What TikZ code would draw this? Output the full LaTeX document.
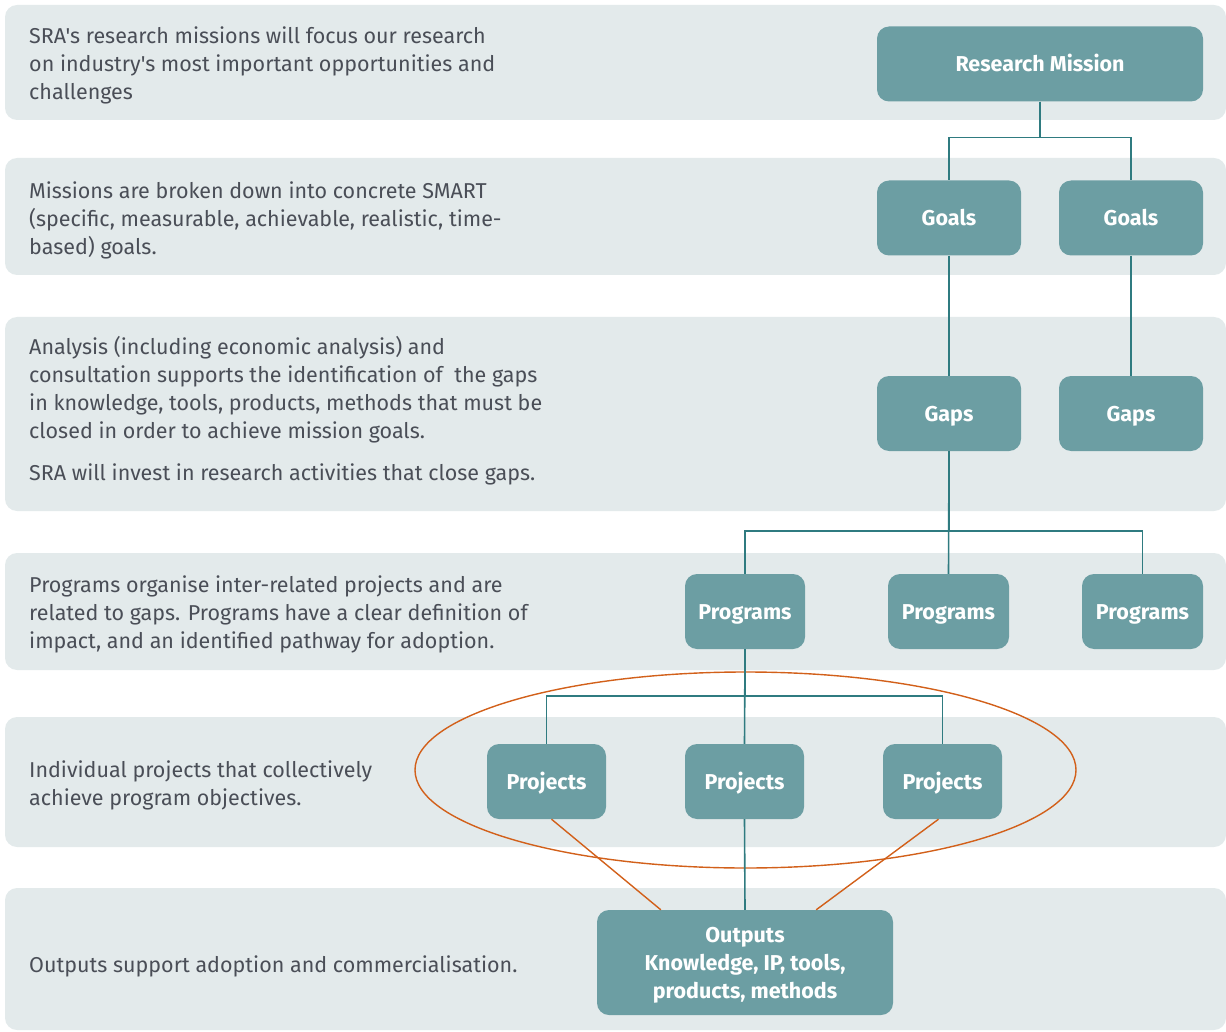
\documentclass[tikz,border=0pt]{standalone}
\usepackage{fontspec}
\setmainfont{Fira Sans}[Ligatures=TeXOff]
\usetikzlibrary{calc}
\definecolor{bandc}{HTML}{E3EAEB}
\definecolor{boxc}{HTML}{6C9EA3}
\definecolor{linec}{HTML}{2F7B80}
\definecolor{orangec}{HTML}{D2601A}
\definecolor{textc}{HTML}{4A4E57}
\tikzset{
  band/.style={fill=bandc, draw=none, rounded corners=12pt},
  desc/.style={anchor=west, align=left, inner sep=0pt, text=textc, font=\fontsize{21.5}{28}\selectfont},
  box/.style={fill=boxc, draw=none, rounded corners=12pt, text=white, inner sep=0pt,
    text height=15pt, text depth=0pt,
    font=\fontsize{21.5}{28}\selectfont\bfseries, align=center},
  conn/.style={draw=linec, line width=1.6pt},
  oconn/.style={draw=orangec, line width=1.4pt}
}
\begin{document}
\begin{tikzpicture}[x=1pt,y=-1pt]
\useasboundingbox (0,0) rectangle (1226,1032);
% bands
\fill[band] (5,5) rectangle (1226,120);
\fill[band] (5,158) rectangle (1226,275);
\fill[band] (5,317) rectangle (1226,511);
\fill[band] (5,553) rectangle (1226,670);
\fill[band] (5,717) rectangle (1226,847);
\fill[band] (5,888) rectangle (1226,1030);
% descriptions
\node[desc] (d1) at (29,65) {SRA's research missions will focus our research\\on industry's most important opportunities and\\challenges};
\node[desc] (d2) at (29,220) {Missions are broken down into concrete SMART\\(specific, measurable, achievable, realistic, time-\\based) goals.};
\node[desc] (d3) at (29,390) {Analysis (including economic analysis) and\\consultation supports the identification of\ \ the gaps\\in knowledge, tools, products, methods that must be\\closed in order to achieve mission goals.};
\node[desc] (d3b) at (29,474) {SRA will invest in research activities that close gaps.};
\node[desc] (d4) at (29,614) {Programs organise inter-related projects and are\\related to gaps. Programs have a clear definition of\\impact, and an identified pathway for adoption.};
\node[desc] (d5) at (29,785) {Individual projects that collectively\\achieve program objectives.};
\node[desc] (d6) at (29,966) {Outputs support adoption and commercialisation.};
% ellipse
\draw[orangec, line width=1.4pt] (745.5,770) ellipse [x radius=330.5, y radius=98];
% boxes
\node[box, minimum width=326, minimum height=75] (rm) at (1040,64) {Research Mission};
\node[box, minimum width=144, minimum height=75] (g1) at (949,218) {Goals};
\node[box, minimum width=144, minimum height=75] (g2) at (1131,218) {Goals};
\node[box, minimum width=144, minimum height=75] (gp1) at (949,413.5) {Gaps};
\node[box, minimum width=144, minimum height=75] (gp2) at (1131,413.5) {Gaps};
\node[box, minimum width=120, minimum height=75] (p1) at (745,611.5) {Programs};
\node[box, minimum width=121, minimum height=75] (p2) at (948.5,611.5) {Programs};
\node[box, minimum width=121, minimum height=75] (p3) at (1142.5,611.5) {Programs};
\node[box, minimum width=119, minimum height=75] (j1) at (546.5,781.5) {Projects};
\node[box, minimum width=119, minimum height=75] (j2) at (744.5,781.5) {Projects};
\node[box, minimum width=119, minimum height=75] (j3) at (942.5,781.5) {Projects};
\node[box, minimum width=296, minimum height=105, text height=71pt, text depth=0pt] (out) at (745,962.5) {Outputs\\Knowledge, IP, tools,\\products, methods};
% connectors
\draw[conn] (rm.south) -- ++(0,36) -| (g1.north);
\draw[conn] (rm.south) -- ++(0,36) -| (g2.north);
\draw[conn] (g1.south) -- (gp1.north);
\draw[conn] (g2.south) -- (gp2.north);
\draw[conn] (gp1.south) -- (p2.north);
\draw[conn] (gp1.south) -- ++(0,80) -| (p1.north);
\draw[conn] (gp1.south) -- ++(0,80) -| (p3.north);
\draw[conn] (p1.south) -- ++(0,47) -| (j1.north);
\draw[conn] (p1.south) -- ++(0,47) -| (j3.north);
\draw[conn] (p1.south) -- (j2.north);
\draw[conn] (j2.south) -- (out.north);
\draw[oconn] ([xshift=5pt]j1.south) -- ([xshift=64pt]out.north west);
\draw[oconn] ([xshift=-4pt]j3.south) -- ([xshift=-77pt]out.north east);
\end{tikzpicture}
\end{document}
